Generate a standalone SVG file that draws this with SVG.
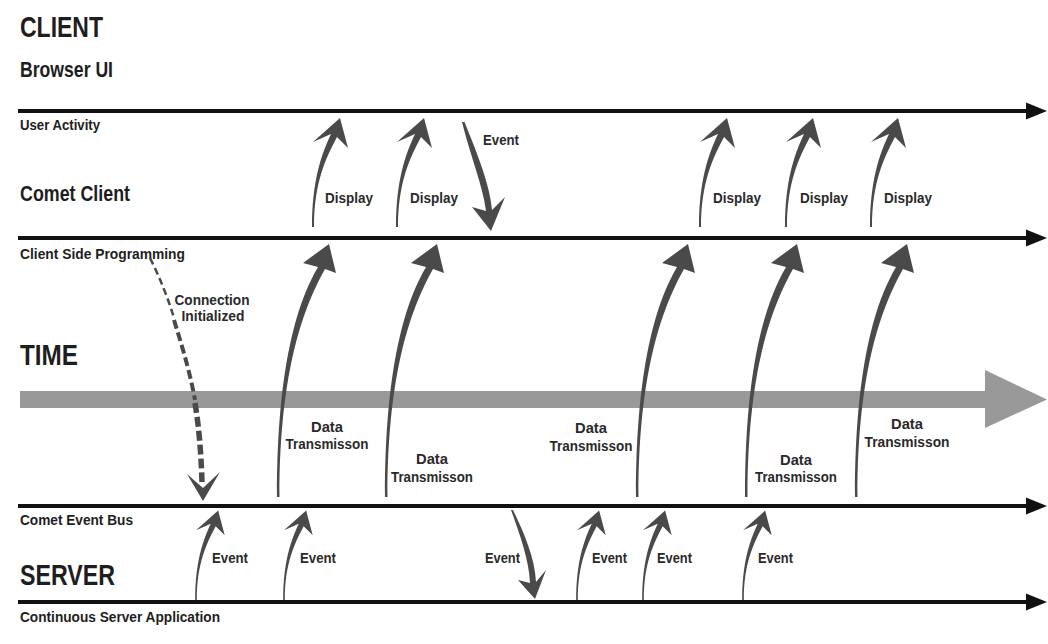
<svg xmlns="http://www.w3.org/2000/svg" xmlns:xlink="http://www.w3.org/1999/xlink" width="1048" height="644" viewBox="0 0 1048 644">
<style>
text{font-family:"Liberation Sans","DejaVu Sans",Arial,sans-serif;font-weight:bold;fill:#1e1e1e}
.big{font-size:30px}
.mid{font-size:22px}
.sm{font-size:14px}
.lbl{font-size:14px;fill:#2a2a2a}
.ctr{text-anchor:middle}
.lane{stroke:#111;stroke-width:4;fill:none}
.arr{fill:#4a4a4a}
.dash{fill:none;stroke:#4a4a4a}
</style>
<defs>
<marker id="ah" markerUnits="userSpaceOnUse" markerWidth="22" markerHeight="18" refX="0" refY="9" orient="auto">
<path d="M0,0.5 L21,9 L0,17.5 Z" fill="#111"/>
</marker>
<path id="upA" d="M-1,0 C-1,-45 8,-72 18,-93 L0,-85 L27,-109 L35,-79 L24,-90 C13,-69 1,-45 1,0 Z"/>
<path id="upD" d="M-1,0 C-1,-130 19,-194 40,-230 L25,-234 L51,-253 L58,-224 L47,-228 C27,-192 1.5,-130 1.5,0 Z"/>
</defs>
<rect width="1048" height="644" fill="#fff"/>

<g id="client">
<text class="big" x="20" y="37" textLength="83" lengthAdjust="spacingAndGlyphs">CLIENT</text>
<text class="mid" x="20" y="77" font-size="21" textLength="93" lengthAdjust="spacingAndGlyphs">Browser UI</text>
</g>
<g id="user-activity">
<line class="lane" x1="18" y1="111" x2="1026" y2="111" marker-end="url(#ah)"/>
<text class="sm" x="20" y="130" textLength="80" lengthAdjust="spacingAndGlyphs">User Activity</text>
</g>
<g id="comet-client">
<text class="mid" x="20" y="201" font-size="23" textLength="110" lengthAdjust="spacingAndGlyphs">Comet Client</text>
</g>
<g id="client-side-programming">
<line class="lane" x1="18" y1="238" x2="1026" y2="238" marker-end="url(#ah)"/>
<text class="sm" x="20" y="259" textLength="165" lengthAdjust="spacingAndGlyphs">Client Side Programming</text>
</g>
<g id="time">
<text class="big" x="20" y="365" textLength="58" lengthAdjust="spacingAndGlyphs">TIME</text>
<rect x="20" y="391" width="966" height="17" fill="#999"/>
<polygon points="985,370 1047,399.5 985,428" fill="#999"/>
</g>
<g id="comet-event-bus">
<line class="lane" x1="18" y1="506" x2="1026" y2="506" marker-end="url(#ah)"/>
<text class="sm" x="20" y="525" textLength="113" lengthAdjust="spacingAndGlyphs">Comet Event Bus</text>
</g>
<g id="server">
<text class="big" x="20" y="585" font-size="28" textLength="95" lengthAdjust="spacingAndGlyphs">SERVER</text>
</g>
<g id="continuous-server-application">
<line class="lane" x1="18" y1="602" x2="1026" y2="602" marker-end="url(#ah)"/>
<text class="sm" x="20" y="622" textLength="200" lengthAdjust="spacingAndGlyphs">Continuous Server Application</text>
</g>

<g id="connectors">
<!-- Display arrows -->
<use href="#upA" class="arr" transform="translate(313,227)"/>
<use href="#upA" class="arr" transform="translate(397,227)"/>
<use href="#upA" class="arr" transform="translate(700,227)"/>
<use href="#upA" class="arr" transform="translate(786,227)"/>
<use href="#upA" class="arr" transform="translate(871,227)"/>
<text class="lbl" x="325" y="203" textLength="48" lengthAdjust="spacingAndGlyphs">Display</text>
<text class="lbl" x="410" y="203" textLength="48" lengthAdjust="spacingAndGlyphs">Display</text>
<text class="lbl" x="713" y="203" textLength="48" lengthAdjust="spacingAndGlyphs">Display</text>
<text class="lbl" x="800" y="203" textLength="48" lengthAdjust="spacingAndGlyphs">Display</text>
<text class="lbl" x="884" y="203" textLength="48" lengthAdjust="spacingAndGlyphs">Display</text>
<!-- top Event (down) -->
<path class="arr" d="M462,122 C470,155 483,186 486,211 L472,207 L491,231 L505,197 L492,210 C490,185 477,153 464.5,122 Z"/>
<text class="lbl" x="483" y="145" textLength="36" lengthAdjust="spacingAndGlyphs">Event</text>

<!-- Data Transmission arrows -->
<use href="#upD" class="arr" transform="translate(278,497)"/>
<use href="#upD" class="arr" transform="translate(386,497)"/>
<use href="#upD" class="arr" transform="translate(637,497)"/>
<use href="#upD" class="arr" transform="translate(746,497)"/>
<use href="#upD" class="arr" transform="translate(856,497)"/>
<text class="lbl ctr" x="327" y="432" textLength="32" lengthAdjust="spacingAndGlyphs">Data</text>
<text class="lbl ctr" x="327" y="449" textLength="83" lengthAdjust="spacingAndGlyphs">Transmisson</text>
<text class="lbl ctr" x="432" y="464" textLength="32" lengthAdjust="spacingAndGlyphs">Data</text>
<text class="lbl ctr" x="432" y="482" textLength="82" lengthAdjust="spacingAndGlyphs">Transmisson</text>
<text class="lbl ctr" x="591" y="433" textLength="32" lengthAdjust="spacingAndGlyphs">Data</text>
<text class="lbl ctr" x="591" y="451" textLength="83" lengthAdjust="spacingAndGlyphs">Transmisson</text>
<text class="lbl ctr" x="796" y="465" textLength="32" lengthAdjust="spacingAndGlyphs">Data</text>
<text class="lbl ctr" x="796" y="482" textLength="82" lengthAdjust="spacingAndGlyphs">Transmisson</text>
<text class="lbl ctr" x="907" y="429" textLength="32" lengthAdjust="spacingAndGlyphs">Data</text>
<text class="lbl ctr" x="907" y="447" textLength="85" lengthAdjust="spacingAndGlyphs">Transmisson</text>

<!-- Connection Initialized (dashed) -->
<path class="dash" stroke-width="2.5" stroke-dasharray="7 4" d="M150,258 C160,278 168,298 174,318"/>
<path class="dash" stroke-width="4" stroke-dasharray="9 4" d="M174,320 C182,346 190,372 195,400"/>
<path class="dash" stroke-width="5.5" stroke-dasharray="10 4" d="M195,403 C199,427 201,452 202,482"/>
<path class="arr" d="M187,474 L203,501 L220,472 L203,488 Z"/>
<text class="lbl ctr" x="212" y="305" textLength="75" lengthAdjust="spacingAndGlyphs">Connection</text>
<text class="lbl ctr" x="213" y="321" textLength="63" lengthAdjust="spacingAndGlyphs">Initialized</text>

<!-- Server Event arrows -->
<use href="#upA" class="arr" transform="translate(196,600) scale(0.82)"/>
<use href="#upA" class="arr" transform="translate(284,600) scale(0.82)"/>
<use href="#upA" class="arr" transform="translate(577,600) scale(0.82)"/>
<use href="#upA" class="arr" transform="translate(643,600) scale(0.82)"/>
<use href="#upA" class="arr" transform="translate(743,600) scale(0.82)"/>
<path class="arr" d="M511,510 C520,535 529,560 530,583 L518,580 L535,599 L546,570 L536,582 C535,558 524,533 513,510 Z"/>
<text class="lbl" x="212" y="563" textLength="36" lengthAdjust="spacingAndGlyphs">Event</text>
<text class="lbl" x="300" y="563" textLength="36" lengthAdjust="spacingAndGlyphs">Event</text>
<text class="lbl" x="485" y="563" textLength="35" lengthAdjust="spacingAndGlyphs">Event</text>
<text class="lbl" x="592" y="563" textLength="35" lengthAdjust="spacingAndGlyphs">Event</text>
<text class="lbl" x="657" y="563" textLength="35" lengthAdjust="spacingAndGlyphs">Event</text>
<text class="lbl" x="758" y="563" textLength="35" lengthAdjust="spacingAndGlyphs">Event</text>
</g>
</svg>
